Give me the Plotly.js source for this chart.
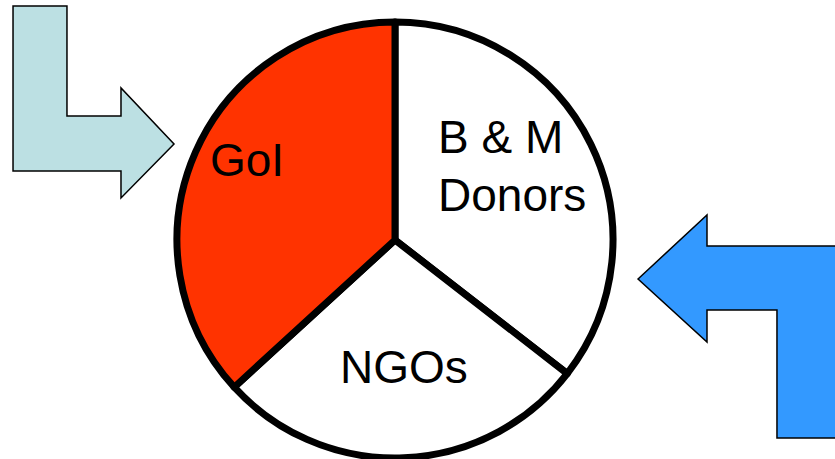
<!DOCTYPE html>
<html>
<head>
<meta charset="utf-8">
<script src="https://cdn.plot.ly/plotly-3.0.1.min.js"></script>
<style>html,body{margin:0;padding:0;background:#fff;overflow:hidden}#chart{width:835px;height:459px}</style>
</head>
<body>
<div id="chart"></div>
<script>
const labels = ['B & M Donors', 'NGOs', 'GoI'];
const values = [35.5, 27.7, 36.8];
const sliceColors = ['#FFFFFF', '#FFFFFF', '#FF3300'];
const labelLines = [['B & M', 'Donors'], ['NGOs'], ['GoI']];

const W = 835, H = 459;
const px = x => x / W;
const py = y => 1 - y / H;
function pathFrom(points) {
  return 'M ' + points.map(p => px(p[0]).toFixed(4) + ',' + py(p[1]).toFixed(4)).join(' L ') + ' Z';
}

const leftArrow = [[13,6],[67,6],[67,116],[121,116],[121,88],[174,144],[121,198],[121,171],[13,171]];
const rightArrow = [[638,279],[707,215],[707,246],[845,246],[845,445],[777,445],[777,438],[777,310],[707,310],[707,342]];
const rightArrow2 = [[638,279],[707,215],[707,246],[845,246],[845,438],[777,438],[777,310],[707,310],[707,342]];

const cx = 395, cy = 240, r = 218;

const trace = {
  type: 'pie',
  labels: labels,
  values: values,
  sort: false,
  direction: 'clockwise',
  rotation: 0,
  textinfo: 'none',
  hoverinfo: 'label+percent',
  marker: { colors: sliceColors, line: { color: '#000000', width: 7 } },
  domain: { x: [px(cx - r), px(cx + r)], y: [py(cy + r), py(cy - r)] },
  showlegend: false
};

const font = { family: 'Liberation Sans, Arial, sans-serif', size: 46, color: '#000000' };
const annotations = [
  { text: labelLines[0][0], x: px(436), y: py(137), xanchor: 'left', yanchor: 'middle' },
  { text: labelLines[0][1], x: px(436), y: py(195), xanchor: 'left', yanchor: 'middle' },
  { text: labelLines[1][0], x: px(404), y: py(367), xanchor: 'center', yanchor: 'middle' },
  { text: labelLines[2][0], x: px(247), y: py(160), xanchor: 'center', yanchor: 'middle' }
].map(a => Object.assign({ xref: 'paper', yref: 'paper', showarrow: false, font: font }, a));

const layout = {
  width: W, height: H,
  margin: { l: 0, r: 0, t: 0, b: 0 },
  paper_bgcolor: '#ffffff',
  plot_bgcolor: '#ffffff',
  showlegend: false,
  annotations: annotations,
  shapes: [
    { type: 'path', xref: 'paper', yref: 'paper', path: pathFrom(leftArrow), fillcolor: '#BCE0E3', line: { color: '#000000', width: 1.5 }, layer: 'below' },
    { type: 'path', xref: 'paper', yref: 'paper', path: pathFrom(rightArrow2), fillcolor: '#3399FF', line: { color: '#000000', width: 1.5 }, layer: 'below' }
  ]
};

Plotly.newPlot('chart', [trace], layout, { displayModeBar: false, staticPlot: true });
</script>
</body>
</html>
